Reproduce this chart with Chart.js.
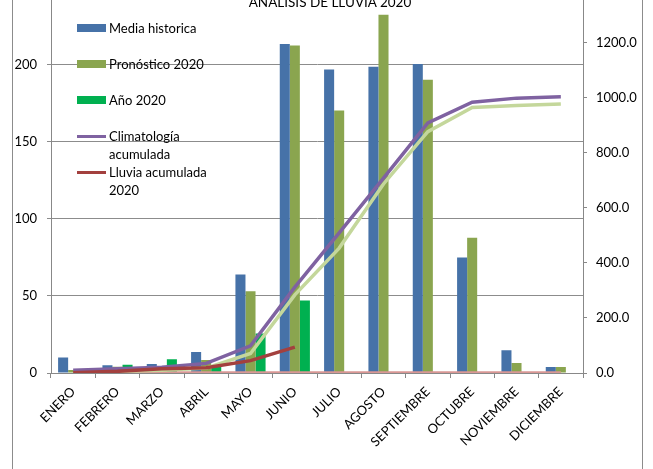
<!DOCTYPE html>
<html>
<head>
<meta charset="utf-8">
<script src="https://cdn.jsdelivr.net/npm/chart.js@4.4.0/dist/chart.umd.min.js"></script>
<style>
    html, body { margin: 0; padding: 0; background: #fff; overflow: hidden; }
    body { width: 653px; height: 469px; position: relative; font-family: Lato, sans-serif; color: #000; }
    #wrap { position: absolute; left: 0; top: -30px; width: 653px; height: 499px; }
    #frame { position: absolute; left: 12px; top: 0; width: 629px; height: 469px;
             border-left: 1px solid #8c8c8c; border-right: 1px solid #8c8c8c; pointer-events: none; }
    #title { position: absolute; left: 0; width: 660px; top: -4px; text-align: center;
             font-size: 13.5px; line-height: 13px; white-space: nowrap; }
    #legend { position: absolute; left: 0; top: 0; }
    .item { position: absolute; left: 77px; font-size: 13px; line-height: 18px; white-space: pre; }
    .sym { position: absolute; left: 0; width: 29px; }
    .txt { position: absolute; left: 32px; }
</style>
</head>
<body>
<div id="wrap"><canvas id="chart" width="653" height="499"></canvas></div>
<div id="frame"></div>
<div id="title">ANÁLISIS DE LLUVIA 2020</div>
<div id="legend"></div>
<script>
// Data
const meses = ['ENERO', 'FEBRERO', 'MARZO', 'ABRIL', 'MAYO', 'JUNIO', 'JULIO',
    'AGOSTO', 'SEPTIEMBRE', 'OCTUBRE', 'NOVIEMBRE', 'DICIEMBRE'];
const mediaHistorica = [10, 5, 5.8, 13.7, 64, 213.5, 197, 198.7, 200.5, 75, 14.8, 3.9];
const pronostico2020 = [2, 4, 4, 8.4, 53, 212.5, 170.3, 232.5, 190.3, 87.7, 6.5, 3.9];
const anio2020 = [1, 5.4, 9, 4.7, 25.6, 47, null, null, null, null, null, null];
const climatologiaAcum = [10, 15, 21, 35, 99, 312, 509, 708, 909, 984, 999, 1004];
const pronosticoAcum = [2, 6, 10, 18, 71, 284, 454, 687, 877, 965, 972, 978];
const lluviaAcum = [1, 6, 15, 19, 45, 94, null, null, null, null, null, null];
const lineaCero = [0, 0, 0, 0, 0, 0, 0, 0, 0, 0, 0, 0];
const ticksIzq = [0, 50, 100, 150, 200, 250];
const ticksDer = [0, 200, 400, 600, 800, 1000, 1200, 1400];

const colors = {
    blue: '#4672a8',
    olive: '#8aa54f',
    green: '#00b050',
    purple: '#7f62a1',
    red: '#a3403e',
    lightGreen: '#c4d79b',
    pink: '#d99795'
};

const legendItems = [
    { text: 'Media historica', color: colors.blue, kind: 'bar' },
    { text: 'Pronóstico 2020', color: colors.olive, kind: 'bar' },
    { text: 'Año 2020', color: colors.green, kind: 'bar' },
    { text: 'Climatología\nacumulada', color: colors.purple, kind: 'line' },
    { text: 'Lluvia acumulada\n2020', color: colors.red, kind: 'line' }
];

const legend = document.getElementById('legend');
legendItems.forEach((item, i) => {
    const div = document.createElement('div');
    div.className = 'item';
    div.style.top = (19 + i * 36) + 'px';
    const sym = document.createElement('span');
    sym.className = 'sym';
    sym.style.background = item.color;
    if (item.kind === 'bar') {
        sym.style.top = '5px';
        sym.style.height = '8px';
    } else {
        sym.style.top = '7.5px';
        sym.style.height = '3px';
    }
    const txt = document.createElement('span');
    txt.className = 'txt';
    txt.textContent = item.text;
    div.appendChild(sym);
    div.appendChild(txt);
    legend.appendChild(div);
});

const tickFont = { family: 'Lato', size: 13 };

const ctx = document.getElementById('chart').getContext('2d');
new Chart(ctx, {
    type: 'bar',
    data: {
        labels: meses,
        datasets: [
            { label: 'Lluvia acumulada 2020', type: 'line', data: lluviaAcum, yAxisID: 'y2',
              borderColor: colors.red, borderWidth: 3.5, pointRadius: 0, order: 1 },
            { label: 'Climatología acumulada', type: 'line', data: climatologiaAcum, yAxisID: 'y2',
              borderColor: colors.purple, borderWidth: 3.5, pointRadius: 0, order: 2 },
            { label: 'Pronóstico acumulado', type: 'line', data: pronosticoAcum, yAxisID: 'y2',
              borderColor: colors.lightGreen, borderWidth: 3.5, pointRadius: 0, order: 3 },
            { label: 'Cero', type: 'line', data: lineaCero, yAxisID: 'y2',
              borderColor: colors.pink, borderWidth: 3.5, pointRadius: 0, order: 4 },
            { label: 'Media historica', data: mediaHistorica, yAxisID: 'y',
              backgroundColor: colors.blue, order: 10 },
            { label: 'Pronóstico 2020', data: pronostico2020, yAxisID: 'y',
              backgroundColor: colors.olive, order: 10 },
            { label: 'Año 2020', data: anio2020, yAxisID: 'y',
              backgroundColor: colors.green, order: 10 }
        ]
    },
    options: {
        responsive: false,
        animation: false,
        layout: { padding: { top: 15.5, left: 0, right: 0, bottom: 0 } },
        datasets: {
            bar: { categoryPercentage: 0.68, barPercentage: 1 }
        },
        plugins: {
            legend: { display: false },
            tooltip: { enabled: false },
            title: { display: false }
        },
        scales: {
            x: {
                offset: true,
                grid: { offset: true, drawOnChartArea: false, tickLength: 5, color: '#888' },
                border: { color: '#888' },
                ticks: { autoSkip: false, maxRotation: 45, minRotation: 45, padding: 6,
                         font: tickFont, color: '#000' },
                afterFit: scale => { scale.height = 96; }
            },
            y: {
                position: 'left',
                min: 0,
                max: 250,
                afterBuildTicks: scale => { scale.ticks = ticksIzq.map(v => ({ value: v })); },
                grid: { color: '#8c8c8c', tickLength: 4 },
                border: { color: '#888' },
                ticks: { padding: 10, font: tickFont, color: '#000' },
                afterFit: scale => { scale.width = 51; }
            },
            y2: {
                position: 'right',
                min: 0,
                max: 1400,
                afterBuildTicks: scale => { scale.ticks = ticksDer.map(v => ({ value: v })); },
                grid: { drawOnChartArea: false, tickLength: 4, color: '#888' },
                border: { color: '#888' },
                ticks: { padding: 9, font: tickFont, color: '#000',
                         callback: v => Number(v).toFixed(1) },
                afterFit: scale => { scale.width = 70; }
            }
        }
    }
});
</script>
</body>
</html>
